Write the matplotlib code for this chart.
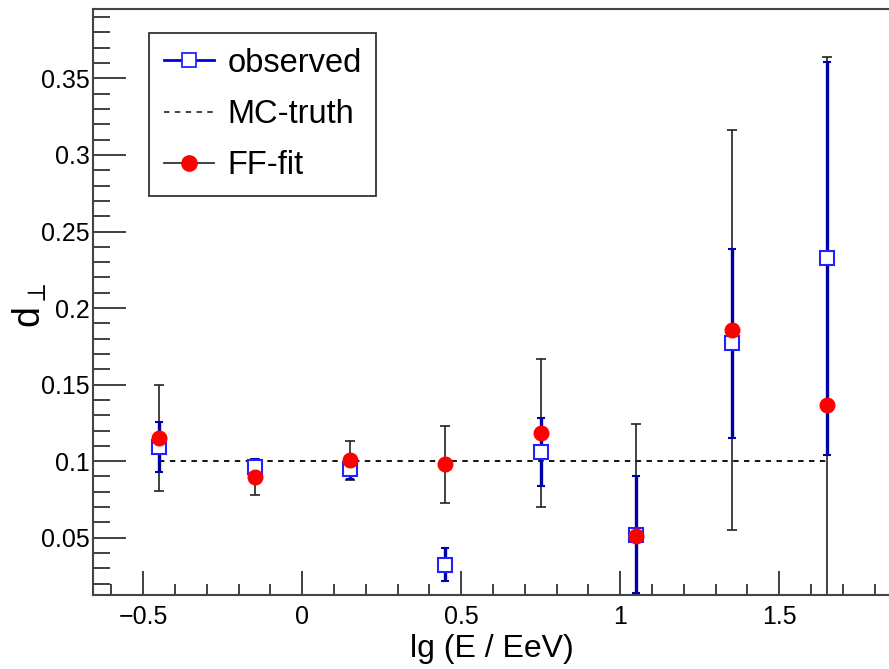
import numpy as np
import matplotlib
matplotlib.use("Agg")
import matplotlib.pyplot as plt
from matplotlib.ticker import MultipleLocator, FuncFormatter
from matplotlib.lines import Line2D

plt.rcParams['font.family'] = ['Liberation Sans', 'DejaVu Sans']

# energy bins, lg(E/EeV)
lg_e = [-0.45, -0.15, 0.15, 0.45, 0.75, 1.05, 1.35, 1.65]

# observed dipole amplitude and its uncertainty
d_obs = [0.1093, 0.0959, 0.0952, 0.0325, 0.1061, 0.0521, 0.1769, 0.2324]
d_obs_err = [0.0165, 0.0054, 0.0068, 0.0107, 0.0222, 0.0380, 0.0620, 0.1281]

# forward-folding fit result
d_ff = [0.1152, 0.0895, 0.1007, 0.0980, 0.1185, 0.0510, 0.1856, 0.1370]
d_ff_err = [0.0345, 0.0119, 0.0128, 0.0250, 0.0483, 0.0734, 0.1306, 0.2270]

mc_truth = 0.1

fig = plt.figure(figsize=(8.89, 6.69), dpi=100)
ax = fig.add_axes([0.1043, 0.1106, 0.8975, 0.8759])

# FF-fit error bars first so the observed bars sit on top
ax.errorbar(lg_e, d_ff, yerr=d_ff_err, fmt='none', ecolor='#222222',
            elinewidth=1.2, capsize=3.5, capthick=1.2, zorder=2)
ax.errorbar(lg_e, d_obs, yerr=d_obs_err, fmt='s', ms=10, mfc='white',
            mec='#2222ff', mew=1.5, color='#0000aa', ecolor='#0000aa',
            elinewidth=2.4, capsize=3, capthick=2.4, zorder=3)
ax.plot(lg_e, d_ff, 'o', ms=10.5, color='#ff0000', mec='#ff0000', zorder=4)

ax.plot([lg_e[0], lg_e[-1]], [mc_truth, mc_truth], ls=(0, (3, 3)),
        color='black', lw=1.3, zorder=1)

ax.set_xlim(-0.659, 1.85)
ax.set_ylim(0.0126, 0.3953)

ax.xaxis.set_major_locator(MultipleLocator(0.5))
ax.xaxis.set_minor_locator(MultipleLocator(0.1))
ax.yaxis.set_major_locator(MultipleLocator(0.05))
ax.yaxis.set_minor_locator(MultipleLocator(0.01))


def fmt_tick(v, pos):
    s = f"{v:g}"
    return s.replace('-', '\u2212')


ax.xaxis.set_major_formatter(FuncFormatter(fmt_tick))
ax.yaxis.set_major_formatter(FuncFormatter(fmt_tick))

ax.tick_params(axis='both', which='both', direction='in', top=False,
               right=False, color='#333333', labelsize=18, width=1.3)
ax.tick_params(axis='y', which='major', length=24, pad=2)
ax.tick_params(axis='y', which='minor', length=12)
ax.tick_params(axis='x', which='major', length=17, pad=7)
ax.tick_params(axis='x', which='minor', length=8)

for s in ax.spines.values():
    s.set_color('#444444')
    s.set_linewidth(1.5)
ax.spines['right'].set_visible(False)

ax.set_xlabel('lg (E / EeV)', fontsize=23, labelpad=4)
fig.text(30 / 889, 1 - 305 / 669, r'd$_{\perp}$', fontsize=27, rotation=90,
         ha='center', va='center')

handles = [
    Line2D([], [], color='#0000dd', lw=2, marker='s', ms=10, mfc='white',
           mec='#2222ff', mew=1.3),
    Line2D([], [], color='#333333', lw=1.3, ls=(0, (3, 3))),
    Line2D([], [], color='#333333', lw=1.3, marker='o', ms=11,
           mfc='#ff0000', mec='#ff0000'),
]
leg = ax.legend(handles, ['observed', 'MC-truth', 'FF-fit'],
                loc='upper left', bbox_to_anchor=(0.0706, 0.959),
                fontsize=23.5, frameon=True, fancybox=False, framealpha=1,
                edgecolor='#333333', handlelength=1.55, handletextpad=0.4,
                labelspacing=0.62, borderpad=0.45, borderaxespad=0)
leg.get_frame().set_linewidth(1.3)

fig.savefig('out.png', dpi=100)
